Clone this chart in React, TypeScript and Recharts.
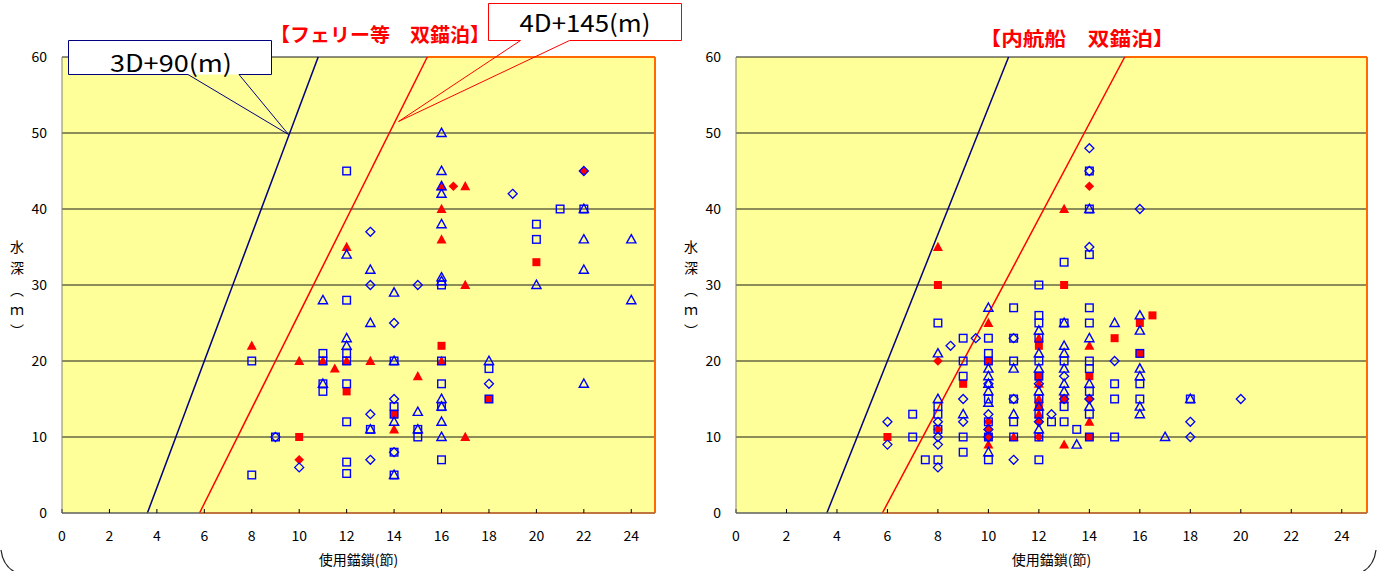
import React from 'react';
import { ScatterChart, Scatter, XAxis, YAxis, CartesianGrid, ReferenceLine } from 'recharts';

type P = [number, number];

const xTicks = [0, 2, 4, 6, 8, 10, 12, 14, 16, 18, 20, 22, 24];
const yTicks = [0, 10, 20, 30, 40, 50, 60];

// boundary lines (chain length in 節 vs water depth m)
const line3D90: P[] = [[3.6, 0], [10.8, 60]];
const line4D145: P[] = [[5.8, 0], [15.4, 60]];
const frameTop: P[] = [[15.4, 60], [25, 60]];
const frameRight: P[] = [[25, 0], [25, 60]];
const frameBottom: P[] = [[5.8, 0], [25, 0]];

// ---- left: ferry etc. ----
const ferryOpenTri: P[] = [[11, 28], [11, 17], [12, 34], [12, 23], [12, 22], [13, 32], [13, 25], [13, 11], [14, 29], [14, 20], [14, 12], [14, 5], [15, 13.3], [15, 11], [16, 50], [16, 45], [16, 43], [16, 42], [16, 38], [16, 31], [16, 30.5], [16, 15], [16, 14], [16, 12], [16, 10], [18, 20], [20, 30], [22, 40], [22, 36], [22, 32], [22, 17], [24, 36], [24, 28]];
const ferryOpenSq: P[] = [[8, 20], [8, 5], [9, 10], [11, 21], [11, 20], [11, 17], [11, 16], [12, 45], [12, 28], [12, 21], [12, 20], [12, 17], [12, 12], [12, 6.7], [12, 5.2], [13, 11], [14, 20], [14, 14], [14, 13], [14, 8], [14, 5], [15, 11], [15, 10], [16, 30], [16, 20], [16, 17], [16, 14], [16, 7], [18, 19], [18, 15], [20, 38], [20, 36], [21, 40], [22, 40]];
const ferryOpenDia: P[] = [[9, 10], [10, 6], [13, 37], [13, 30], [13, 13], [13, 7], [14, 25], [14, 15], [14, 8], [15, 30], [18, 17], [19, 42], [22, 45]];
const ferryRedTri: P[] = [[8, 22], [10, 20], [11, 20], [11.5, 19], [12, 35], [12, 20], [13, 20], [14, 11], [15, 18], [16, 43], [16, 40], [16, 36], [16, 20], [17, 43], [17, 30], [17, 10]];
const ferryRedSq: P[] = [[10, 10], [12, 16], [14, 13], [16, 22], [18, 15], [20, 33]];
const ferryRedDia: P[] = [[10, 7], [16.5, 43], [22, 45]];

// ---- right: coastal ships ----
const coastOpenTri: P[] = [[8, 21], [8, 15], [9, 13], [10, 27], [10, 19], [10, 18], [10, 17], [10, 16], [10, 14.5], [10, 8], [11, 19], [11, 13], [12, 24], [12, 21], [12, 19], [12, 16], [12, 14], [12, 11], [13, 25], [13, 22], [13, 21], [13, 19], [13, 17], [13, 16], [13.5, 9], [14, 40], [14, 23], [14, 17], [14, 14], [15, 25], [16, 26], [16, 24], [16, 19], [16, 18], [16, 14], [16, 13], [17, 10], [18, 15]];
const coastOpenSq: P[] = [[7, 13], [7, 10], [7.5, 7], [8, 25], [8, 14], [8, 13], [8, 11], [8, 7], [9, 23], [9, 20], [9, 18], [9, 10], [9, 8], [10, 23], [10, 21], [10, 20], [10, 15], [10, 12], [10, 10], [10, 7], [11, 27], [11, 23], [11, 20], [11, 15], [11, 12], [11, 10], [12, 30], [12, 26], [12, 25], [12, 23], [12, 20], [12, 18], [12, 15], [12, 13], [12, 10], [12, 7], [12.5, 12], [13, 33], [13, 25], [13, 20], [13, 14], [13, 12], [13.5, 11], [14, 45], [14, 40], [14, 34], [14, 27], [14, 25], [14, 20], [14, 19], [14, 16], [14, 13], [14, 10], [15, 17], [15, 15], [15, 10], [16, 21], [16, 17], [16, 15], [18, 15]];
const coastOpenDia: P[] = [[6, 12], [6, 9], [8, 12], [8, 10], [8, 9], [8, 6], [8.5, 22], [9, 15], [9, 12], [9.5, 23], [10, 17], [10, 13], [10, 11], [10, 10], [11, 23], [11, 15], [11, 7], [12, 17], [12, 12], [12.5, 13], [13, 18], [13, 15], [14, 48], [14, 45], [14, 35], [14, 15], [15, 20], [16, 40], [18, 12], [18, 10], [20, 15]];
const coastRedTri: P[] = [[8, 35], [10, 25], [10, 9], [11, 10], [12, 23], [12, 17], [12, 15], [12, 13], [13, 40], [13, 9], [13, 15], [14, 22], [14, 12]];
const coastRedSq: P[] = [[6, 10], [8, 30], [9, 17], [10, 20], [10, 10], [12, 22], [12, 18], [12, 14], [13, 30], [13, 15], [14, 18], [14, 10], [15, 23], [16, 25], [16, 21], [16.5, 26]];
const coastRedDia: P[] = [[8, 20], [8, 11], [10, 12], [10, 11], [12, 12], [12, 10], [14, 43], [14, 15]];

const BLUE = '#0000FF';
const RED = '#FF0000';
const NAVY = '#000080';
const ORANGE = '#FF6A00';
const FONT = '"Noto Sans CJK JP", "Noto Sans", sans-serif';

const toPts = (a: P[]) => a.map(([x, y]) => ({ x, y }));
const seg = (a: P[]) => a.map(([x, y]) => ({ x, y }));

const OpenTri = (p: any) => (
  <polygon points={`${p.cx},${p.cy - 4.8} ${p.cx + 4.6},${p.cy + 3.5} ${p.cx - 4.6},${p.cy + 3.5}`} fill="none" stroke={BLUE} strokeWidth={1.4} />
);
const OpenSq = (p: any) => (
  <rect x={p.cx - 3.8} y={p.cy - 3.8} width={7.6} height={7.6} fill="none" stroke={BLUE} strokeWidth={1.4} />
);
const OpenDia = (p: any) => (
  <polygon points={`${p.cx},${p.cy - 4.5} ${p.cx + 4.5},${p.cy} ${p.cx},${p.cy + 4.5} ${p.cx - 4.5},${p.cy}`} fill="none" stroke={BLUE} strokeWidth={1.3} />
);
const RedTri = (p: any) => (
  <polygon points={`${p.cx},${p.cy - 5.2} ${p.cx + 5},${p.cy + 4} ${p.cx - 5},${p.cy + 4}`} fill={RED} stroke="none" />
);
const RedSq = (p: any) => (
  <rect x={p.cx - 4} y={p.cy - 4} width={8} height={8} fill={RED} stroke="none" />
);
const RedDia = (p: any) => (
  <polygon points={`${p.cx},${p.cy - 4.8} ${p.cx + 4.8},${p.cy} ${p.cx},${p.cy + 4.8} ${p.cx - 4.8},${p.cy}`} fill={RED} stroke="none" />
);

type Sets = { oTri: P[]; oSq: P[]; oDia: P[]; rTri: P[]; rSq: P[]; rDia: P[] };

function Panel({ left, width, mLeft, mRight, sets }: { left: number; width: number; mLeft: number; mRight: number; sets: Sets }) {
  return (
    <div style={{ position: 'absolute', left, top: 0 }}>
      <ScatterChart width={width} height={571} margin={{ top: 57, right: mRight, bottom: 28, left: mLeft }}>
        <CartesianGrid horizontal vertical={false} fill="#FFFF99" stroke="#1a1a1a" strokeOpacity={1} fillOpacity={1} />
        <XAxis
          type="number"
          dataKey="x"
          domain={[0, 25]}
          ticks={xTicks}
          interval={0}
          height={30}
          allowDataOverflow
          tick={{ fill: '#000', fontSize: 14, fontFamily: FONT }}
          tickSize={-4}
          tickMargin={22}
          tickLine={{ stroke: '#000' }}
          axisLine={{ stroke: '#808080' }}
          label={{ value: '使用錨鎖(節)', position: 'bottom', offset: 12, fill: '#000', fontSize: 14, fontFamily: FONT }}
        />
        <YAxis
          type="number"
          dataKey="y"
          domain={[0, 60]}
          ticks={yTicks}
          interval={0}
          width={40}
          allowDataOverflow
          tick={{ fill: '#000', fontSize: 14, fontFamily: FONT }}
          tickSize={0}
          tickMargin={15}
          tickLine={false}
          axisLine={{ stroke: '#808080' }}
        />
        <ReferenceLine segment={seg(frameTop)} stroke={ORANGE} strokeWidth={2} ifOverflow="visible" />
        <ReferenceLine segment={seg(frameRight)} stroke={ORANGE} strokeWidth={2} ifOverflow="visible" />
        <ReferenceLine segment={seg(frameBottom)} stroke={ORANGE} strokeWidth={2} ifOverflow="visible" />
        <ReferenceLine segment={seg(line3D90)} stroke={NAVY} strokeWidth={1.5} ifOverflow="visible" />
        <ReferenceLine segment={seg(line4D145)} stroke={RED} strokeWidth={1.5} ifOverflow="visible" />
        <Scatter data={toPts(sets.rTri)} shape={RedTri} isAnimationActive={false} />
        <Scatter data={toPts(sets.rSq)} shape={RedSq} isAnimationActive={false} />
        <Scatter data={toPts(sets.rDia)} shape={RedDia} isAnimationActive={false} />
        <Scatter data={toPts(sets.oTri)} shape={OpenTri} isAnimationActive={false} />
        <Scatter data={toPts(sets.oSq)} shape={OpenSq} isAnimationActive={false} />
        <Scatter data={toPts(sets.oDia)} shape={OpenDia} isAnimationActive={false} />
      </ScatterChart>
    </div>
  );
}

function YLabel({ x }: { x: number }) {
  return (
    <g fontFamily={FONT} fontSize={14} fill="#000" textAnchor="middle">
      <text x={x} y={246} dominantBaseline="central">水</text>
      <text x={x} y={267} dominantBaseline="central">深</text>
      <text x={x} y={289} dominantBaseline="central">︵</text>
      <text x={x} y={309} dominantBaseline="central">ｍ</text>
      <text x={x} y={330} dominantBaseline="central">︶</text>
    </g>
  );
}

export default function App() {
  return (
    <div style={{ position: 'absolute', left: 0, top: 0, width: 1377, height: 571, background: '#fff', overflow: 'hidden' }}>
      <Panel left={0} width={670} mLeft={22} mRight={15}
        sets={{ oTri: ferryOpenTri, oSq: ferryOpenSq, oDia: ferryOpenDia, rTri: ferryRedTri, rSq: ferryRedSq, rDia: ferryRedDia }} />
      <Panel left={670} width={707} mLeft={26} mRight={10}
        sets={{ oTri: coastOpenTri, oSq: coastOpenSq, oDia: coastOpenDia, rTri: coastRedTri, rSq: coastRedSq, rDia: coastRedDia }} />
      <svg width={1377} height={571} style={{ position: 'absolute', left: 0, top: 0, pointerEvents: 'none' }}>
        {/* titles */}
        <text x={380} y={33} textAnchor="middle" dominantBaseline="central" fill={RED} fontWeight="bold" fontSize={19} fontFamily={FONT} textLength={220} lengthAdjust="spacingAndGlyphs">【フェリー等　双錨泊】</text>
        <text x={1077} y={37} textAnchor="middle" dominantBaseline="central" fill={RED} fontWeight="bold" fontSize={19} fontFamily={FONT} textLength={195} lengthAdjust="spacingAndGlyphs">【内航船　双錨泊】</text>
        {/* callout 3D+90 */}
        <rect x={68.5} y={40.5} width={203} height={34} fill="#fff" stroke="none" />
        <path d="M188,74.5 H68.5 V40.5 H271.5 V74.5 H239" fill="none" stroke={NAVY} strokeWidth={1} />
        <path d="M188,74.5 L288.5,134.5 L239,74.5" fill="none" stroke={NAVY} strokeWidth={1} />
        <text x={171} y={61} textAnchor="middle" dominantBaseline="central" fill="#000" fontSize={24} fontFamily={FONT} textLength={122} lengthAdjust="spacingAndGlyphs">3D+90(m)</text>
        {/* callout 4D+145 */}
        <rect x={488.5} y={3.5} width={193} height={37} fill="#fff" stroke="none" />
        <path d="M520.5,40.5 H488.5 V3.5 H681.5 V40.5 H569.5" fill="none" stroke={RED} strokeWidth={1} />
        <path d="M520.5,40.5 L398.5,121.5 L569.5,40.5" fill="none" stroke={RED} strokeWidth={1} />
        <text x={585} y={21} textAnchor="middle" dominantBaseline="central" fill="#000" fontSize={24} fontFamily={FONT} textLength={131} lengthAdjust="spacingAndGlyphs">4D+145(m)</text>
        {/* y labels */}
        <YLabel x={17} />
        <YLabel x={691} />
        {/* frame corners */}
        <path d="M1,550 Q3,566 15,572" fill="none" stroke="#222" strokeWidth={1.2} />
        <path d="M1376,550 Q1374,566 1362,572" fill="none" stroke="#222" strokeWidth={1.2} />
      </svg>
    </div>
  );
}
